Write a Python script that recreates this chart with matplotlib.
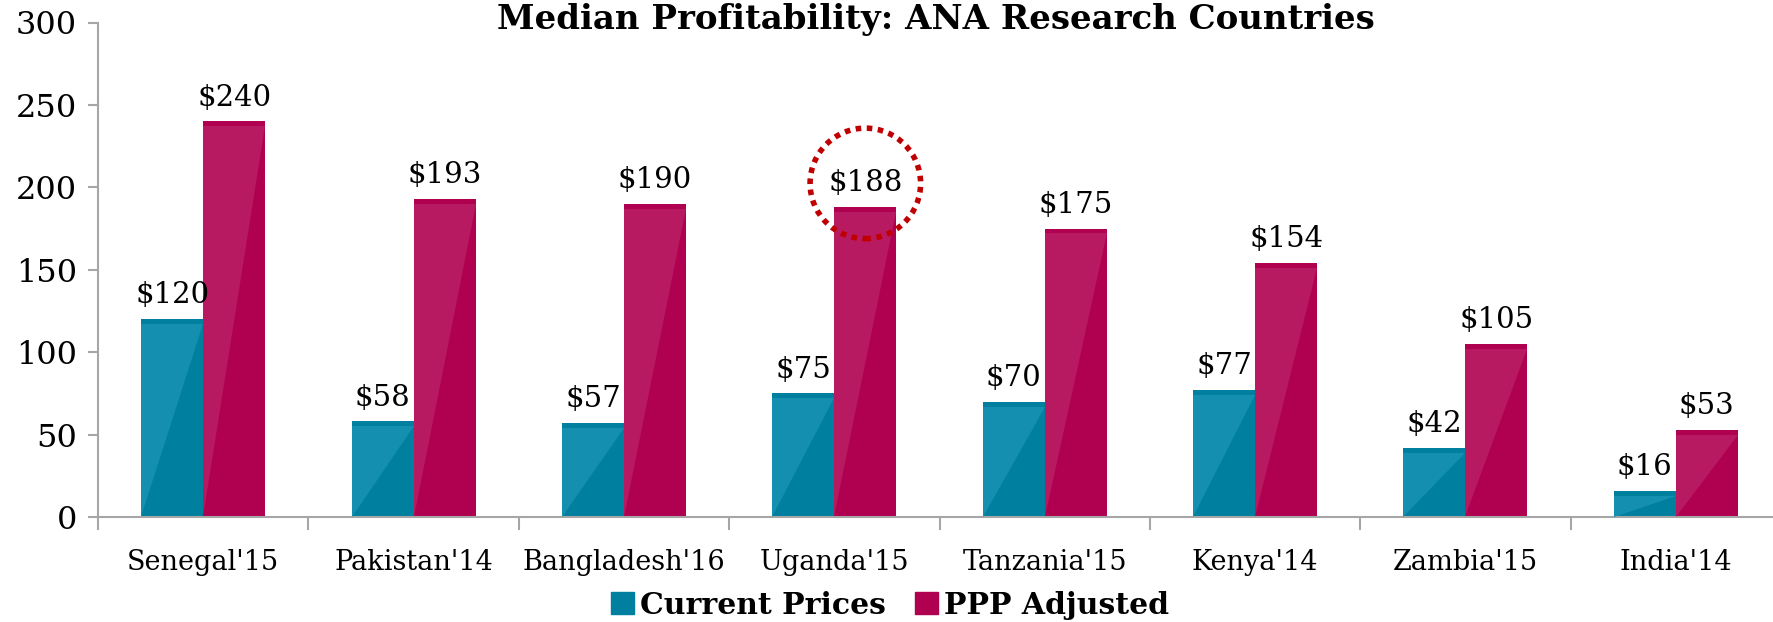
import matplotlib.pyplot as plt
from matplotlib.patches import Patch
import numpy as np

# Daten
laender = ["Senegal'15", "Pakistan'14", "Bangladesh'16", "Uganda'15",
           "Tanzania'15", "Kenya'14", "Zambia'15", "India'14"]
aktuelle_preise = [120, 58, 57, 75, 70, 77, 42, 16]
ppp_bereinigt = [240, 193, 190, 188, 175, 154, 105, 53]
hervorgehoben = "Uganda'15"

teal_dunkel, teal_hell = '#007f9f', '#148fb0'
mag_dunkel, mag_hell = '#b00050', '#b71a60'

plt.rcParams['font.family'] = 'DejaVu Serif'

fig = plt.figure(figsize=(17.73, 6.22), dpi=100)
ax = fig.add_axes([98 / 1773, 105 / 622, 1683 / 1773, 494.5 / 622])

x = np.arange(len(laender))
breite = 0.295
bars1 = ax.bar(x - breite / 2, aktuelle_preise, breite, color=teal_dunkel, zorder=2)
bars2 = ax.bar(x + breite / 2, ppp_bereinigt, breite, color=mag_dunkel, zorder=2)

# Glanzeffekt: helles Dreieck oben links, dunkler Streifen oben
streifen = 3
for bars, hell in [(bars1, teal_hell), (bars2, mag_hell)]:
    for b in bars:
        x0, w, h = b.get_x(), b.get_width(), b.get_height()
        ax.fill([x0, x0, x0 + w], [0, h - streifen, h - streifen], color=hell, lw=0, zorder=3)

# Werte beschriften
for bars in (bars1, bars2):
    for b in bars:
        ax.annotate(f"${b.get_height():.0f}", (b.get_x() + b.get_width() / 2, b.get_height()),
                    xytext=(0, 7), textcoords='offset points', ha='center', va='bottom',
                    fontsize=21, zorder=4)

# Kreis um den hervorgehobenen Wert
i = laender.index(hervorgehoben)
ax.texts[len(laender) + i].set_bbox(dict(boxstyle='circle,pad=0.62', fc='none', ec='#c00000',
                                         lw=4, ls=(0, (1, 1))))

ax.set_ylim(0, 300)
ax.set_xlim(-0.5, len(laender) - 0.5)
ax.set_yticks(range(0, 301, 50))
ax.set_xticks(x)
ax.set_xticklabels(laender)
ax.set_xticks(np.arange(len(laender) + 1) - 0.5, minor=True)
ax.tick_params(axis='x', which='major', length=0, pad=23, labelsize=19.5)
ax.tick_params(axis='x', which='minor', length=9, width=1.5, color='#a6a6a6')
ax.tick_params(axis='y', length=7, width=1.5, color='#a6a6a6', labelsize=23, pad=8)
for s in ['top', 'right']:
    ax.spines[s].set_visible(False)
for s in ['left', 'bottom']:
    ax.spines[s].set_color('#a6a6a6')
    ax.spines[s].set_linewidth(1.5)

fig.text(936 / 1773, 1 - 20 / 622, "Median Profitability: ANA Research Countries",
         ha='center', va='center', fontsize=24.5, fontweight='bold')

handles = [Patch(color=teal_dunkel), Patch(color=mag_dunkel)]
fig.legend(handles, ['Current Prices', 'PPP Adjusted'], loc='center', ncol=2,
           bbox_to_anchor=(890 / 1773, 1 - 605 / 622), frameon=False,
           prop={'weight': 'bold', 'size': 21.5}, handlelength=0.75, handleheight=0.75,
           handletextpad=0.2, columnspacing=1.0)

fig.savefig('out.png', dpi=100)
